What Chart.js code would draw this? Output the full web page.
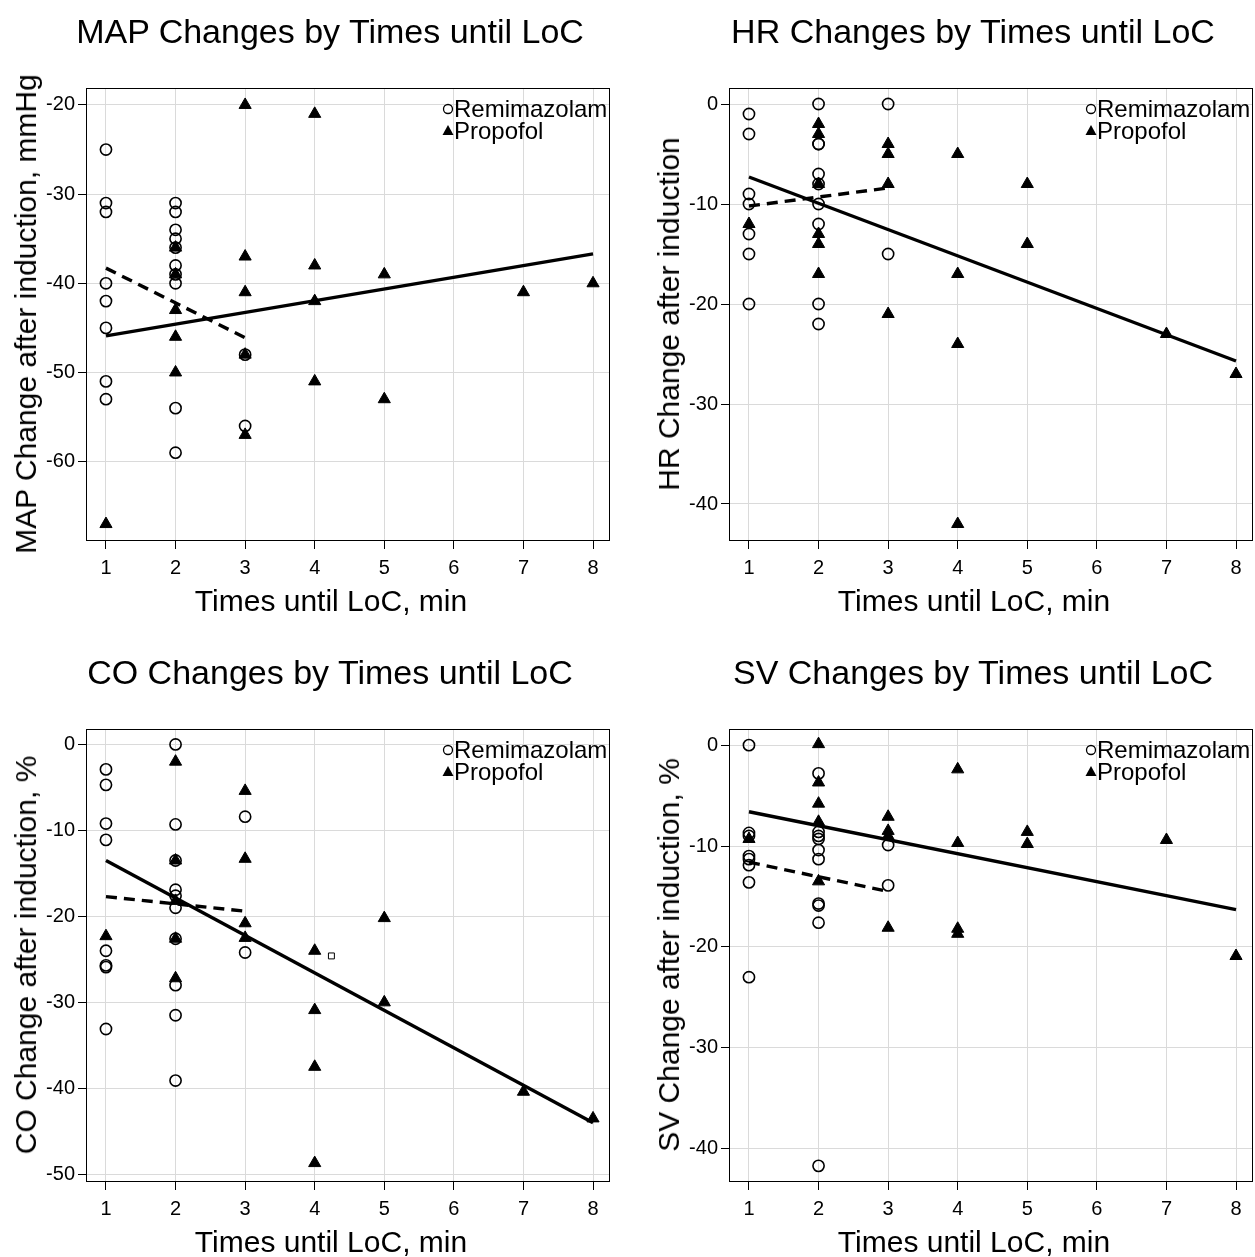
<!DOCTYPE html>
<html>
<head>
<meta charset="utf-8">
<script src="https://cdn.jsdelivr.net/npm/chart.js@4.4.1/dist/chart.umd.min.js"></script>
<style>
  body { margin: 0; width: 1255px; height: 1257px; overflow: hidden; background: #fff; position: relative;
         font-family: "Liberation Sans", Arial, sans-serif; color: #000; }
  .panel { position: absolute; width: 643px; height: 628px; }
  .panel canvas { position: absolute; left: 0; top: 0; }
  .title { position: absolute; left: 330px; top: 31px; transform: translate(-50%, -50%);
           font-size: 34px; line-height: 1; white-space: nowrap; }
  .xlab  { position: absolute; left: 331px; top: 601px; transform: translate(-50%, -50%);
           font-size: 30px; line-height: 1; white-space: nowrap; }
  .ylab  { position: absolute; left: 26px; top: 314px; transform: translate(-50%, -50%) rotate(-90deg);
           font-size: 30px; line-height: 1; white-space: nowrap; }
</style>
</head>
<body>

<div class="panel" style="left:0;top:0">
  <canvas id="mapChart" width="643" height="628"></canvas>
  <div class="title">MAP Changes by Times until LoC</div>
  <div class="ylab">MAP Change after induction, mmHg</div>
  <div class="xlab">Times until LoC, min</div>
</div>
<div class="panel" style="left:643px;top:0">
  <canvas id="hrChart" width="643" height="628"></canvas>
  <div class="title">HR Changes by Times until LoC</div>
  <div class="ylab">HR Change after induction</div>
  <div class="xlab">Times until LoC, min</div>
</div>
<div class="panel" style="left:0;top:641px">
  <canvas id="coChart" width="643" height="628"></canvas>
  <div class="title">CO Changes by Times until LoC</div>
  <div class="ylab">CO Change after induction, %</div>
  <div class="xlab">Times until LoC, min</div>
</div>
<div class="panel" style="left:643px;top:641px">
  <canvas id="svChart" width="643" height="628"></canvas>
  <div class="title">SV Changes by Times until LoC</div>
  <div class="ylab">SV Change after induction, %</div>
  <div class="xlab">Times until LoC, min</div>
</div>

<script>
// ---- shared x axis ----
const xTicks = [1, 2, 3, 4, 5, 6, 7, 8];
const xRange = [0.713, 8.244];

// ---- MAP ----
const mapTicks = [-20, -30, -40, -50, -60];
const mapRange = [-68.9, -18.1];
const mapRemi = [[1,-25],[1,-31],[1,-32],[1,-40],[1,-42],[1,-45],[1,-51],[1,-53],
                 [2,-31],[2,-32],[2,-34],[2,-35],[2,-36],[2,-38],[2,-39],[2,-40],[2,-54],[2,-59],
                 [3,-48],[3,-56]];
const mapProp = [[1,-67],[2,-36],[2,-39],[2,-43],[2,-46],[2,-50],
                 [3,-20],[3,-37],[3,-41],[3,-48],[3,-57],
                 [4,-21],[4,-38],[4,-42],[4,-51],[5,-39],[5,-53],[7,-41],[8,-40]];
const mapRemiFit = [[1,-38.3],[3,-46.1]];
const mapPropFit = [[1,-45.9],[8,-36.7]];

// ---- HR ----
const hrTicks = [0, -10, -20, -30, -40];
const hrRange = [-43.7, 1.6];
const hrRemi = [[1,-1],[1,-3],[1,-9],[1,-10],[1,-13],[1,-15],[1,-20],
                [2,0],[2,-4],[2,-4],[2,-7],[2,-8],[2,-10],[2,-12],[2,-20],[2,-22],
                [3,0],[3,-15]];
const hrProp = [[1,-12],[2,-2],[2,-3],[2,-8],[2,-13],[2,-14],[2,-17],
                [3,-4],[3,-5],[3,-8],[3,-21],[4,-5],[4,-17],[4,-24],[4,-42],
                [5,-8],[5,-14],[7,-23],[8,-27]];
const hrRemiFit = [[1,-10.2],[3,-8.4]];
const hrPropFit = [[1,-7.3],[8,-25.7]];

// ---- CO ----
const coTicks = [0, -10, -20, -30, -40, -50];
const coRange = [-50.9, 1.8];
const coRemi = [[1,-2.9],[1,-4.7],[1,-9.2],[1,-11.1],[1,-24.0],[1,-25.7],[1,-25.9],[1,-33.1],
                [2,0],[2,-9.3],[2,-13.5],[2,-16.9],[2,-17.6],[2,-19.0],[2,-22.6],[2,-28.0],[2,-31.5],[2,-39.1],
                [3,-8.4],[3,-24.2]];
const coProp = [[1,-22.3],[2,-2.0],[2,-13.5],[2,-18.2],[2,-22.6],[2,-27.2],
                [3,-5.4],[3,-13.3],[3,-20.8],[3,-22.5],
                [4,-24.0],[4,-30.9],[4,-37.5],[4,-48.7],[5,-20.2],[5,-30.0],[7,-40.4],[8,-43.5]];
const coStray = [[4.24,-24.6]];
const coRemiFit = [[1,-17.7],[3,-19.4]];
const coPropFit = [[1,-13.5],[8,-44.0]];

// ---- SV ----
const svTicks = [0, -10, -20, -30, -40];
const svRange = [-43.3, 1.6];
const svRemi = [[1,0],[1,-8.7],[1,-9.0],[1,-11.0],[1,-11.3],[1,-11.9],[1,-13.6],[1,-23.0],
                [2,-2.8],[2,-8.6],[2,-9.0],[2,-9.3],[2,-10.4],[2,-11.3],[2,-15.7],[2,-15.9],[2,-17.6],[2,-41.7],
                [3,-9.9],[3,-13.9]];
const svProp = [[1,-9.3],[2,0.1],[2,-3.7],[2,-5.8],[2,-7.6],[2,-13.5],
                [3,-7.1],[3,-8.5],[3,-9.0],[3,-18.1],
                [4,-2.4],[4,-9.7],[4,-18.2],[4,-18.7],[5,-8.6],[5,-9.8],[7,-9.4],[8,-20.9]];
const svRemiFit = [[1,-11.6],[3,-14.5]];
const svPropFit = [[1,-6.6],[8,-16.3]];


const FONT = '"Liberation Sans", Arial, sans-serif';

function pts(arr) {
  return arr.map(function (p) { return { x: p[0], y: p[1] }; });
}

// box round the plot area
const boxPlugin = {
  id: 'plotBox',
  beforeDatasetsDraw(chart) {
    const a = chart.chartArea, ctx = chart.ctx;
    ctx.save();
    ctx.strokeStyle = '#000';
    ctx.lineWidth = 1;
    ctx.strokeRect(Math.round(a.left) + 0.5, Math.round(a.top) + 0.5,
                   Math.round(a.width) - 1, Math.round(a.height) - 1);
    ctx.restore();
  }
};

// R style legend in the top right corner
const legendPlugin = {
  id: 'cornerLegend',
  afterDatasetsDraw(chart) {
    const a = chart.chartArea, ctx = chart.ctx;
    const x = a.left + 362;
    const y1 = a.top + 21, y2 = a.top + 43;
    ctx.save();
    ctx.strokeStyle = '#000';
    ctx.fillStyle = '#000';
    ctx.lineWidth = 1.3;
    ctx.beginPath();
    ctx.arc(x, y1, 4.5, 0, Math.PI * 2);
    ctx.stroke();
    ctx.beginPath();
    ctx.moveTo(x, y2 - 6);
    ctx.lineTo(x + 5.5, y2 + 4);
    ctx.lineTo(x - 5.5, y2 + 4);
    ctx.closePath();
    ctx.fill();
    ctx.font = '24px ' + FONT;
    ctx.textBaseline = 'middle';
    ctx.fillText('Remimazolam', x + 6, y1 + 1);
    ctx.fillText('Propofol', x + 6, y2 + 1);
    ctx.restore();
  }
};

function makePanel(id, yTicks, yRange, remi, prop, remiFit, propFit, stray) {
  const datasets = [
    { data: pts(propFit), showLine: true, pointRadius: 0, borderColor: '#000', borderWidth: 3.4, order: 0 },
    { data: pts(remiFit), showLine: true, pointRadius: 0, borderColor: '#000', borderWidth: 3.4,
      borderDash: [11, 7], order: 0 },
    { data: pts(prop), pointStyle: 'triangle', pointRadius: 7, backgroundColor: '#000',
      borderColor: '#000', borderWidth: 1, order: 2 },
    { data: pts(remi), pointStyle: 'circle', pointRadius: 5.6, backgroundColor: 'rgba(0,0,0,0)',
      borderColor: '#000', borderWidth: 1.6, order: 1 }
  ];
  if (stray) {
    datasets.push({ data: pts(stray), pointStyle: 'rect', pointRadius: 4.2, backgroundColor: 'rgba(0,0,0,0)',
                    borderColor: '#000', borderWidth: 1, order: 1 });
  }

  new Chart(document.getElementById(id).getContext('2d'), {
    type: 'scatter',
    data: { datasets: datasets },
    options: {
      responsive: false,
      animation: false,
      devicePixelRatio: 1,
      layout: { padding: { left: 0, right: 33, top: 88, bottom: 0 } },
      plugins: { legend: { display: false }, tooltip: { enabled: false } },
      elements: { point: { hoverRadius: 0 } },
      scales: {
        x: {
          type: 'linear',
          min: xRange[0], max: xRange[1],
          afterBuildTicks: function (s) { s.ticks = xTicks.map(function (v) { return { value: v }; }); },
          afterFit: function (s) { s.height = 87; },
          grid: { color: '#dadada', lineWidth: 1, tickColor: '#000', tickLength: 8, drawTicks: true },
          border: { display: false },
          ticks: { color: '#000', font: { family: FONT, size: 20 }, padding: 7, maxRotation: 0 }
        },
        y: {
          type: 'linear',
          min: yRange[0], max: yRange[1],
          afterBuildTicks: function (s) { s.ticks = yTicks.map(function (v) { return { value: v }; }); },
          afterFit: function (s) { s.width = 86; },
          grid: { color: '#dadada', lineWidth: 1, tickColor: '#000', tickLength: 8, drawTicks: true },
          border: { display: false },
          ticks: { color: '#000', font: { family: FONT, size: 20 }, padding: 3 }
        }
      }
    },
    plugins: [boxPlugin, legendPlugin]
  });
}

makePanel('mapChart', mapTicks, mapRange, mapRemi, mapProp, mapRemiFit, mapPropFit);
makePanel('hrChart',  hrTicks,  hrRange,  hrRemi,  hrProp,  hrRemiFit,  hrPropFit);
makePanel('coChart',  coTicks,  coRange,  coRemi,  coProp,  coRemiFit,  coPropFit, coStray);
makePanel('svChart',  svTicks,  svRange,  svRemi,  svProp,  svRemiFit,  svPropFit);
</script>
</body>
</html>
